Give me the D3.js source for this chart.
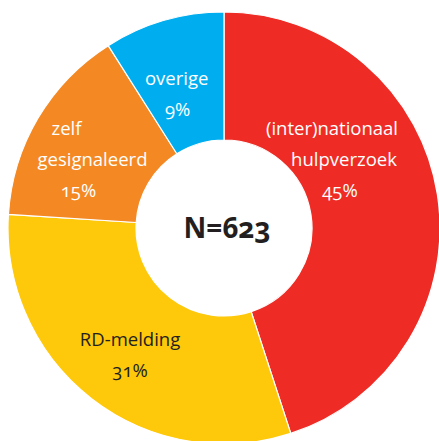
<!DOCTYPE html>
<html>
<head>
<meta charset="utf-8">
<script src="https://cdn.jsdelivr.net/npm/d3@7"></script>
<style>
  body { margin: 0; background: #fff; }
  svg { display: block; }
  text { font-family: "Open Sans", sans-serif; }
</style>
</head>
<body>
<script>
// data
var categories = ["(inter)nationaal hulpverzoek", "RD-melding", "zelf gesignaleerd", "overige"];
var shares = [45, 31, 15, 9];
var labelLines = [["(inter)nationaal", "hulpverzoek"], ["RD-melding"], ["zelf", "gesignaleerd"], ["overige"]];
var totalN = 623;

var colors = ["#ee2c25", "#fec80b", "#f48923", "#00aeef"];
var textColors = ["#fff", "#231f20", "#fff", "#fff"];
// label block placement: angle (deg clockwise from top), distance from centre
var labelAngle = [59, 216.5, 295.5, 340.5];
var labelDist = [133, 158, 159, 142];
var lineX = [[-6, 6, 2], [0, 0], [-14, 12, -2], [0, 1]];

var width = 439, height = 441;
var cx = 224, cy = 228, outerR = 216, innerR = 88;

var svg = d3.select("body").append("svg")
  .attr("width", width)
  .attr("height", height);

var g = svg.append("g").attr("transform", "translate(" + cx + "," + cy + ")");

var pie = d3.pie().sort(null).value(function(d) { return d; });
var arcs = pie(shares);
var arc = d3.arc().innerRadius(innerR).outerRadius(outerR);

g.selectAll("path.slice").data(arcs).enter().append("path")
  .attr("class", "slice")
  .attr("d", arc)
  .attr("fill", function(d, i) { return colors[i]; })
  .attr("stroke", "#fff")
  .attr("stroke-width", 1.2);

// labels
arcs.forEach(function(d, i) {
  var a = labelAngle[i] * Math.PI / 180;
  var x = labelDist[i] * Math.sin(a);
  var y = -labelDist[i] * Math.cos(a);
  var lines = labelLines[i].concat([shares[i] + "%"]);
  var lh = 31;
  var y0 = y - (lines.length - 1) * lh / 2;
  var t = g.append("text")
    .attr("text-anchor", "middle")
    .attr("fill", textColors[i])
    .attr("font-size", 18.5)
    .style("font-variant-numeric", "oldstyle-nums");
  lines.forEach(function(s, j) {
    t.append("tspan")
      .attr("x", x + lineX[i][j])
      .attr("y", y0 + j * lh)
      .attr("dy", "0.35em")
      .text(s);
  });
});

g.append("text")
  .attr("text-anchor", "middle")
  .attr("x", 3)
  .attr("y", 10)
  .attr("font-size", 28)
  .attr("font-weight", "bold")
  .attr("fill", "#231f20")
  .style("font-variant-numeric", "oldstyle-nums")
  .text("N=" + totalN);
</script>
</body>
</html>
